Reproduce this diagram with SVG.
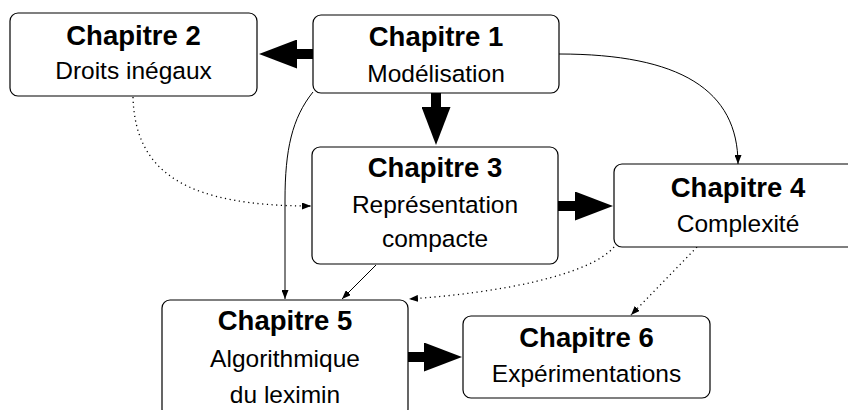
<svg xmlns="http://www.w3.org/2000/svg" width="848" height="410" viewBox="0 0 848 410">
<style>
.box{fill:#fff;stroke:#000;stroke-width:1.2}
.t{font-family:"Liberation Sans",Arial,sans-serif;font-weight:bold;font-size:27.5px;text-anchor:middle;fill:#000}
.s{font-family:"Liberation Sans",Arial,sans-serif;font-size:24.5px;text-anchor:middle;fill:#000}
.thick{fill:none;stroke:#000;stroke-width:10;marker-end:url(#big)}
.thin{fill:none;stroke:#000;stroke-width:1;marker-end:url(#small)}
.dot{fill:none;stroke:#000;stroke-width:1.3;stroke-dasharray:1.2 3.5;marker-end:url(#small)}
</style>
<defs>
<marker id="big" markerUnits="userSpaceOnUse" markerWidth="38" markerHeight="29" viewBox="0 0 38 29" refX="0" refY="14.5" orient="auto">
<path d="M0,0 L38,14.5 L0,29 z" fill="#000"/>
</marker>
<marker id="small" markerUnits="userSpaceOnUse" markerWidth="9" markerHeight="7" viewBox="0 0 9 7" refX="9" refY="3.5" orient="auto">
<path d="M0,0 L9,3.5 L0,7 z" fill="#000"/>
</marker>
</defs>
<rect width="848" height="410" fill="#fff"/>
<g id="connectors">
<path class="thick" d="M313,54 L297,54"/>
<path class="thick" d="M436,93 L436,107"/>
<path class="thick" d="M558,206 L575,206"/>
<path class="thick" d="M408,357 L424,357"/>
<path class="thin" d="M559,54 C680,54 738,90 738,164"/>
<path class="thin" d="M313,92 C292,118 285,150 285,200 L285,299"/>
<path class="thin" d="M376,265 L342,299"/>
<path class="dot" d="M133,97 C135,175 190,206 311,206"/>
<path class="dot" d="M614,247 C590,275 500,293 409,299"/>
<path class="dot" d="M697,247 L631,315"/>
</g>
<g id="ch1">
<rect class="box" x="313" y="15" width="246" height="78" rx="8"/>
<text class="t" x="436" y="46">Chapitre 1</text>
<text class="s" x="436" y="82">Modélisation</text>
</g>
<g id="ch2">
<rect class="box" x="10" y="13" width="247" height="83" rx="8"/>
<text class="t" x="133.5" y="45">Chapitre 2</text>
<text class="s" x="133.5" y="79">Droits inégaux</text>
</g>
<g id="ch3">
<rect class="box" x="312" y="147" width="246" height="117" rx="8"/>
<text class="t" x="435" y="177">Chapitre 3</text>
<text class="s" x="435" y="213">Représentation</text>
<text class="s" x="435" y="247">compacte</text>
</g>
<g id="ch4">
<rect class="box" x="614" y="164" width="246" height="83" rx="8"/>
<text class="t" x="738" y="197">Chapitre 4</text>
<text class="s" x="738" y="232">Complexité</text>
</g>
<g id="ch5">
<rect class="box" x="162" y="300" width="246" height="117" rx="8"/>
<text class="t" x="285" y="330">Chapitre 5</text>
<text class="s" x="285" y="367">Algorithmique</text>
<text class="s" x="285" y="403">du leximin</text>
</g>
<g id="ch6">
<rect class="box" x="463" y="316" width="247" height="82" rx="8"/>
<text class="t" x="586.5" y="347">Chapitre 6</text>
<text class="s" x="586.5" y="382">Expérimentations</text>
</g>
</svg>
